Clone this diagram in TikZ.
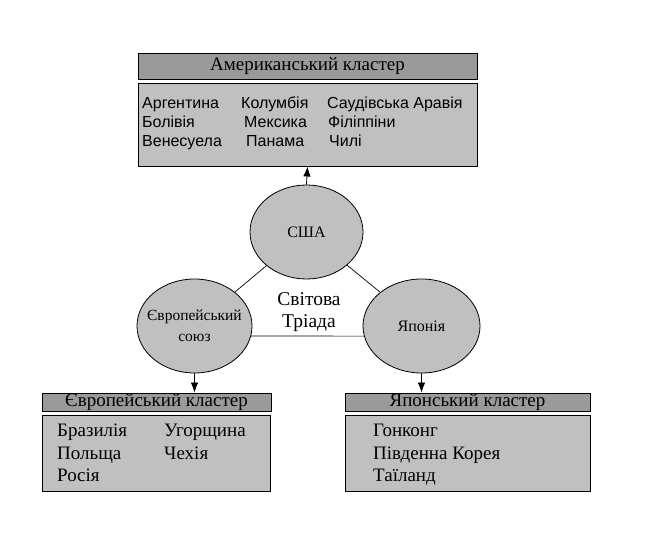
\documentclass[tikz,border=0pt]{standalone}
\usepackage{fontspec}
\setmainfont{Liberation Serif}
\newfontfamily\sansf{Liberation Sans}
\usetikzlibrary{shapes.geometric,arrows.meta}
\definecolor{hdrgray}{HTML}{9A9A9A}
\definecolor{boxgray}{HTML}{C0C0C0}
\tikzset{
  hdr/.style={draw=black, fill=hdrgray, line width=0.9pt, inner sep=0pt, anchor=center},
  content/.style={draw=black, fill=boxgray, line width=0.9pt, inner sep=0pt, anchor=center},
  member/.style={draw=black, fill=boxgray, ellipse, line width=0.8pt, inner sep=0pt, minimum height=94pt},
  mtxt/.style={align=center, inner sep=0pt, font=\fontsize{16}{20}\selectfont},
  tie/.style={line width=0.7pt},
  feed/.style={line width=0.8pt, -{Latex[length=10pt,width=7.5pt]}},
  lst/.style={anchor=base west, inner sep=0pt, font=\sansf\fontsize{16}{18}\selectfont},
  lstser/.style={anchor=base west, inner sep=0pt, font=\fontsize{19}{22}\selectfont},
  htxt/.style={font=\fontsize{19}{20}\selectfont}
}
\begin{document}
\begin{tikzpicture}[x=1pt,y=-1pt]
\useasboundingbox (0,0) rectangle (666,553);
% top cluster
\node[hdr, minimum width=339pt, minimum height=26pt, htxt] (amh) at (307.5,66) {Американський кластер};
\node[content, minimum width=339pt, minimum height=83pt] (amc) at (307.5,124.5) {};
\node[lst] (a1) at (142,109) {Аргентина};
\node[lst] (a2) at (142,128) {Болівія};
\node[lst] (a3) at (142,147) {Венесуела};
\node[lst] (a4) at (241,109) {Колумбія};
\node[lst] (a5) at (244,128) {Мексика};
\node[lst] (a6) at (246,147) {Панама};
\node[lst] (a7) at (327,109) {Саудівська Аравія};
\node[lst] (a8) at (328,128) {Філіппіни};
\node[lst] (a9) at (329,147) {Чилі};
% circles
\node[member, minimum width=113pt] (usa) at (306.5,232) {};
\node[member, minimum width=115pt] (eu) at (194.5,326) {};
\node[member, minimum width=117pt] (jp) at (421.5,326) {};
\node[mtxt] (usat) at (usa.center) {США};
\node[mtxt, font=\fontsize{15.5}{21}\selectfont] (eut) at (eu.center) {Європейський\\союз};
\node[mtxt] (jpt) at (jp.center) {Японія};
\node[align=center, inner sep=0pt, font=\fontsize{19.5}{22}\selectfont] (triad) at (309,312) {Світова\\Тріада};
\draw[tie] (usa) -- (eu);
\draw[tie] (usa) -- (jp);
\draw[tie] (eu.-10) -- (jp.190);
% EU cluster
\node[hdr, minimum width=229pt, minimum height=18pt, htxt] (euh) at (156.5,402) {Європейський кластер};
\node[content, minimum width=228pt, minimum height=76pt] (euc) at (156,453) {};
\node[lstser] (e1) at (57,436) {Бразилія};
\node[lstser] (e2) at (57,459) {Польща};
\node[lstser] (e3) at (57,481) {Росія};
\node[lstser] (e4) at (164,436) {Угорщина};
\node[lstser] (e5) at (164,459) {Чехія};
% Japan cluster
\node[hdr, minimum width=245pt, minimum height=18pt, htxt] (jph) at (467.5,402) {Японський кластер};
\node[content, minimum width=245pt, minimum height=76pt] (jpc) at (467.5,453) {};
\node[lstser] (j1) at (373,436) {Гонконг};
\node[lstser] (j2) at (373,459) {Південна Корея};
\node[lstser] (j3) at (373,481) {Таїланд};
% arrows
\draw[feed] (usa.north) -- (amc.south);
\draw[feed] (eu.south) -- (eu.south |- euh.north);
\draw[feed] (jp.south) -- (jp.south |- jph.north);
\end{tikzpicture}
\end{document}
